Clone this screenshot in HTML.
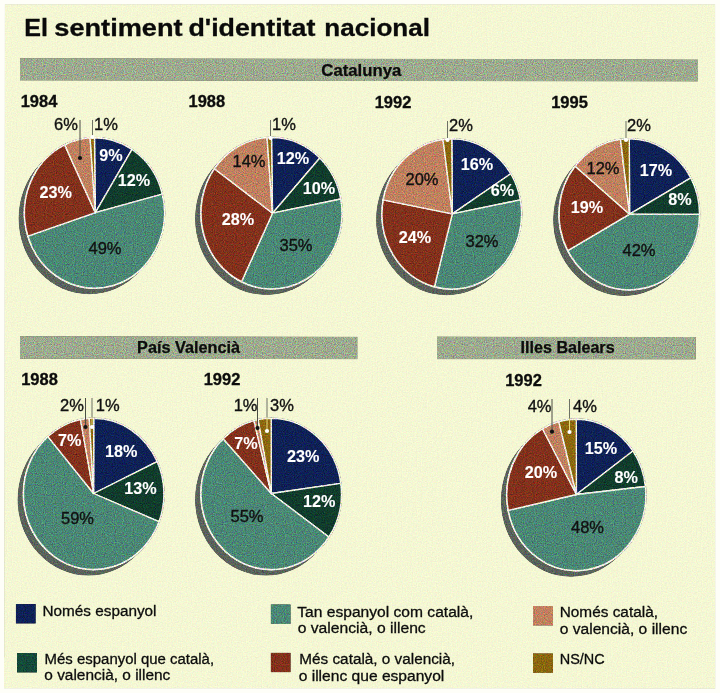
<!DOCTYPE html>
<html lang="ca"><head><meta charset="utf-8"><title>El sentiment d'identitat nacional</title>
<style>html,body{margin:0;padding:0;background:#fff}svg{display:block}</style></head>
<body>
<svg width="720" height="693" viewBox="0 0 720 693" font-family="Liberation Sans, sans-serif">
<defs>
<filter id="gs" x="0" y="0" width="100%" height="100%" color-interpolation-filters="sRGB">
<feTurbulence type="fractalNoise" baseFrequency="0.9" numOctaves="2" seed="7" result="n"/>
<feColorMatrix in="n" type="matrix" values="1 0 0 0 0  0 1 0 0 0  0 0 1 0 0  0 0 0 0 1" result="n1"/>
<feComposite in="SourceGraphic" in2="n1" operator="arithmetic" k1="0.7" k2="0.65" k3="0.22" k4="-0.11" result="c"/>
<feComposite in="c" in2="SourceGraphic" operator="in"/>
</filter>
<filter id="gl" x="0" y="0" width="100%" height="100%" color-interpolation-filters="sRGB">
<feTurbulence type="fractalNoise" baseFrequency="0.8" numOctaves="2" seed="3" result="n"/>
<feColorMatrix in="n" type="matrix" values="1 0 0 0 0  0 1 0 0 0  0 0 1 0 0  0 0 0 0 1" result="n1"/>
<feComposite in="SourceGraphic" in2="n1" operator="arithmetic" k1="0" k2="1" k3="0.16" k4="-0.08" result="c"/>
<feComposite in="c" in2="SourceGraphic" operator="in"/>
</filter>
</defs>
<rect width="720" height="693" fill="#FEFEF8"/>
<polygon points="4.8,4.3 715.2,4.3 715.4,688.7 4,688.4" fill="#F4F7D3" filter="url(#gl)"/>
<g filter="url(#gs)">
<polygon points="20,58.2 698,59.4 698,81.6 20,80.4" fill="#9DAA8F"/>
<polygon points="20,336.2 357.5,336.7 357.5,359.2 20,358.7" fill="#9DAA8F"/>
<polygon points="437,336.6 695.7,337 695.7,359.6 437,359.2" fill="#9DAA8F"/>
<ellipse cx="89.2" cy="218.4" rx="70.6" ry="75.8" fill="#5A625B"/>
<ellipse cx="94.5" cy="212.9" rx="70.9" ry="76.10000000000001" fill="#FBF8EA"/>
<path d="M95.3 212.7L94.50 137.70A70 75.2 0 0 1 132.01 149.41Z" fill="#0F2156" stroke="#FBF8EA" stroke-width="1.35" stroke-linejoin="round"/>
<path d="M95.3 212.7L132.01 149.41A70 75.2 0 0 1 162.30 194.20Z" fill="#113C2C" stroke="#FBF8EA" stroke-width="1.35" stroke-linejoin="round"/>
<path d="M95.3 212.7L162.30 194.20A70 75.2 0 0 1 27.93 236.14Z" fill="#4B8775" stroke="#FBF8EA" stroke-width="1.35" stroke-linejoin="round"/>
<path d="M95.3 212.7L27.93 236.14A70 75.2 0 0 1 64.70 144.86Z" fill="#82311C" stroke="#FBF8EA" stroke-width="1.35" stroke-linejoin="round"/>
<path d="M95.3 212.7L64.70 144.86A70 75.2 0 0 1 90.10 137.85Z" fill="#BF805F" stroke="#FBF8EA" stroke-width="1.35" stroke-linejoin="round"/>
<path d="M95.3 212.7L90.10 137.85A70 75.2 0 0 1 94.50 137.70Z" fill="#8B670F" stroke="#FBF8EA" stroke-width="1.35" stroke-linejoin="round"/>
<ellipse cx="266.2" cy="218.7" rx="71.1" ry="76.3" fill="#5A625B"/>
<ellipse cx="271.5" cy="213.2" rx="71.4" ry="76.60000000000001" fill="#FBF8EA"/>
<path d="M272.5 213.2L271.50 137.50A70.5 75.7 0 0 1 319.76 158.02Z" fill="#0F2156" stroke="#FBF8EA" stroke-width="1.35" stroke-linejoin="round"/>
<path d="M272.5 213.2L319.76 158.02A70.5 75.7 0 0 1 340.75 199.02Z" fill="#113C2C" stroke="#FBF8EA" stroke-width="1.35" stroke-linejoin="round"/>
<path d="M272.5 213.2L340.75 199.02A70.5 75.7 0 0 1 241.48 281.70Z" fill="#4B8775" stroke="#FBF8EA" stroke-width="1.35" stroke-linejoin="round"/>
<path d="M272.5 213.2L241.48 281.70A70.5 75.7 0 0 1 214.46 168.70Z" fill="#82311C" stroke="#FBF8EA" stroke-width="1.35" stroke-linejoin="round"/>
<path d="M272.5 213.2L214.46 168.70A70.5 75.7 0 0 1 267.07 137.65Z" fill="#BF805F" stroke="#FBF8EA" stroke-width="1.35" stroke-linejoin="round"/>
<path d="M272.5 213.2L267.07 137.65A70.5 75.7 0 0 1 271.50 137.50Z" fill="#8B670F" stroke="#FBF8EA" stroke-width="1.35" stroke-linejoin="round"/>
<ellipse cx="446.5" cy="219.5" rx="70.39999999999999" ry="75.69999999999999" fill="#5A625B"/>
<ellipse cx="451.8" cy="214.0" rx="70.7" ry="76.0" fill="#FBF8EA"/>
<path d="M452.3 213.9L451.80 138.90A69.8 75.1 0 0 1 510.73 173.76Z" fill="#0F2156" stroke="#FBF8EA" stroke-width="1.35" stroke-linejoin="round"/>
<path d="M452.3 213.9L510.73 173.76A69.8 75.1 0 0 1 520.36 199.93Z" fill="#113C2C" stroke="#FBF8EA" stroke-width="1.35" stroke-linejoin="round"/>
<path d="M452.3 213.9L520.36 199.93A69.8 75.1 0 0 1 434.44 286.74Z" fill="#4B8775" stroke="#FBF8EA" stroke-width="1.35" stroke-linejoin="round"/>
<path d="M452.3 213.9L434.44 286.74A69.8 75.1 0 0 1 383.24 199.93Z" fill="#82311C" stroke="#FBF8EA" stroke-width="1.35" stroke-linejoin="round"/>
<path d="M452.3 213.9L383.24 199.93A69.8 75.1 0 0 1 443.05 139.49Z" fill="#BF805F" stroke="#FBF8EA" stroke-width="1.35" stroke-linejoin="round"/>
<path d="M452.3 213.9L443.05 139.49A69.8 75.1 0 0 1 451.80 138.90Z" fill="#8B670F" stroke="#FBF8EA" stroke-width="1.35" stroke-linejoin="round"/>
<ellipse cx="624.0" cy="219.8" rx="70.8" ry="76.1" fill="#5A625B"/>
<ellipse cx="629.3" cy="214.3" rx="71.10000000000001" ry="76.4" fill="#FBF8EA"/>
<path d="M629.6 214.2L629.30 138.80A70.2 75.5 0 0 1 690.82 177.93Z" fill="#0F2156" stroke="#FBF8EA" stroke-width="1.35" stroke-linejoin="round"/>
<path d="M629.6 214.2L690.82 177.93A70.2 75.5 0 0 1 699.50 214.30Z" fill="#113C2C" stroke="#FBF8EA" stroke-width="1.35" stroke-linejoin="round"/>
<path d="M629.6 214.2L699.50 214.30A70.2 75.5 0 0 1 567.78 250.67Z" fill="#4B8775" stroke="#FBF8EA" stroke-width="1.35" stroke-linejoin="round"/>
<path d="M629.6 214.2L567.78 250.67A70.2 75.5 0 0 1 575.21 166.17Z" fill="#82311C" stroke="#FBF8EA" stroke-width="1.35" stroke-linejoin="round"/>
<path d="M629.6 214.2L575.21 166.17A70.2 75.5 0 0 1 620.50 139.40Z" fill="#BF805F" stroke="#FBF8EA" stroke-width="1.35" stroke-linejoin="round"/>
<path d="M629.6 214.2L620.50 139.40A70.2 75.5 0 0 1 629.30 138.80Z" fill="#8B670F" stroke="#FBF8EA" stroke-width="1.35" stroke-linejoin="round"/>
<ellipse cx="88.4" cy="499.4" rx="70.8" ry="76.19999999999999" fill="#5A625B"/>
<ellipse cx="93.7" cy="493.9" rx="71.10000000000001" ry="76.5" fill="#FBF8EA"/>
<path d="M93.6 493.5L93.70 418.30A70.2 75.6 0 0 1 157.22 461.71Z" fill="#0F2156" stroke="#FBF8EA" stroke-width="1.35" stroke-linejoin="round"/>
<path d="M93.6 493.5L157.22 461.71A70.2 75.6 0 0 1 158.97 521.73Z" fill="#113C2C" stroke="#FBF8EA" stroke-width="1.35" stroke-linejoin="round"/>
<path d="M93.6 493.5L158.97 521.73A70.2 75.6 0 1 1 47.94 436.57Z" fill="#4B8775" stroke="#FBF8EA" stroke-width="1.35" stroke-linejoin="round"/>
<path d="M93.6 493.5L47.94 436.57A70.2 75.6 0 0 1 80.55 419.64Z" fill="#82311C" stroke="#FBF8EA" stroke-width="1.35" stroke-linejoin="round"/>
<path d="M93.6 493.5L80.55 419.64A70.2 75.6 0 0 1 89.29 418.45Z" fill="#BF805F" stroke="#FBF8EA" stroke-width="1.35" stroke-linejoin="round"/>
<path d="M93.6 493.5L89.29 418.45A70.2 75.6 0 0 1 93.70 418.30Z" fill="#8B670F" stroke="#FBF8EA" stroke-width="1.35" stroke-linejoin="round"/>
<ellipse cx="265.9" cy="499.4" rx="70.8" ry="76.19999999999999" fill="#5A625B"/>
<ellipse cx="271.2" cy="493.9" rx="71.10000000000001" ry="76.5" fill="#FBF8EA"/>
<path d="M271.3 493.5L271.20 418.30A70.2 75.6 0 0 1 340.71 483.35Z" fill="#0F2156" stroke="#FBF8EA" stroke-width="1.35" stroke-linejoin="round"/>
<path d="M271.3 493.5L340.71 483.35A70.2 75.6 0 0 1 328.88 536.99Z" fill="#113C2C" stroke="#FBF8EA" stroke-width="1.35" stroke-linejoin="round"/>
<path d="M271.3 493.5L328.88 536.99A70.2 75.6 0 1 1 223.21 438.73Z" fill="#4B8775" stroke="#FBF8EA" stroke-width="1.35" stroke-linejoin="round"/>
<path d="M271.3 493.5L223.21 438.73A70.2 75.6 0 0 1 253.91 420.63Z" fill="#82311C" stroke="#FBF8EA" stroke-width="1.35" stroke-linejoin="round"/>
<path d="M271.3 493.5L253.91 420.63A70.2 75.6 0 0 1 258.17 419.61Z" fill="#BF805F" stroke="#FBF8EA" stroke-width="1.35" stroke-linejoin="round"/>
<path d="M271.3 493.5L258.17 419.61A70.2 75.6 0 0 1 271.20 418.30Z" fill="#8B670F" stroke="#FBF8EA" stroke-width="1.35" stroke-linejoin="round"/>
<ellipse cx="571.0" cy="500.4" rx="70.1" ry="76.3" fill="#5A625B"/>
<ellipse cx="576.3" cy="494.9" rx="70.4" ry="76.60000000000001" fill="#FBF8EA"/>
<path d="M576.4 494.5L576.30 419.20A69.5 75.7 0 0 1 632.91 450.99Z" fill="#0F2156" stroke="#FBF8EA" stroke-width="1.35" stroke-linejoin="round"/>
<path d="M576.4 494.5L632.91 450.99A69.5 75.7 0 0 1 645.37 486.51Z" fill="#113C2C" stroke="#FBF8EA" stroke-width="1.35" stroke-linejoin="round"/>
<path d="M576.4 494.5L645.37 486.51A69.5 75.7 0 0 1 508.27 510.40Z" fill="#4B8775" stroke="#FBF8EA" stroke-width="1.35" stroke-linejoin="round"/>
<path d="M576.4 494.5L508.27 510.40A69.5 75.7 0 0 1 542.51 428.75Z" fill="#82311C" stroke="#FBF8EA" stroke-width="1.35" stroke-linejoin="round"/>
<path d="M576.4 494.5L542.51 428.75A69.5 75.7 0 0 1 558.85 421.63Z" fill="#BF805F" stroke="#FBF8EA" stroke-width="1.35" stroke-linejoin="round"/>
<path d="M576.4 494.5L558.85 421.63A69.5 75.7 0 0 1 576.30 419.20Z" fill="#8B670F" stroke="#FBF8EA" stroke-width="1.35" stroke-linejoin="round"/>
<rect x="15.8" y="604" width="20" height="19.6" fill="#0F2156"/>
<rect x="17" y="653" width="20" height="19.6" fill="#154A3A"/>
<rect x="270.7" y="604.3" width="20" height="19.6" fill="#4B8775"/>
<rect x="270.7" y="652.7" width="20" height="19.6" fill="#82311C"/>
<rect x="533" y="606" width="20" height="19.6" fill="#BF805F"/>
<rect x="533" y="653.3" width="20" height="19.6" fill="#8B670F"/>
</g>
<text font-size="23.6" font-weight="bold" stroke="#0a0a0a" stroke-width="0.3" fill="#0a0a0a"><tspan x="24.3" y="36.3" textLength="23.7" lengthAdjust="spacingAndGlyphs">El</tspan> <tspan x="54.3" y="36.3" textLength="128.3" lengthAdjust="spacingAndGlyphs">sentiment</tspan> <tspan x="188.4" y="36.3" textLength="127" lengthAdjust="spacingAndGlyphs">d'identitat</tspan> <tspan x="324.3" y="36.3" textLength="105.6" lengthAdjust="spacingAndGlyphs">nacional</tspan></text>
<text x="321.3" y="75.8" font-size="16" font-weight="bold" textLength="80" lengthAdjust="spacingAndGlyphs" stroke="#0c0c0c" stroke-width="0.25" fill="#0c0c0c">Catalunya</text>
<text x="137.1" y="352.6" font-size="16" font-weight="bold" textLength="103" lengthAdjust="spacingAndGlyphs" stroke="#0c0c0c" stroke-width="0.25" fill="#0c0c0c">País Valencià</text>
<text x="520.6" y="353.3" font-size="16" font-weight="bold" textLength="94" lengthAdjust="spacingAndGlyphs" stroke="#0c0c0c" stroke-width="0.25" fill="#0c0c0c">Illes Balears</text>
<text x="20.7" y="107.0" font-size="15.6" font-weight="bold" textLength="36.7" lengthAdjust="spacingAndGlyphs" stroke="#0c0c0c" stroke-width="0.3" fill="#0c0c0c">1984</text>
<text x="188.5" y="107.0" font-size="15.6" font-weight="bold" textLength="36.7" lengthAdjust="spacingAndGlyphs" stroke="#0c0c0c" stroke-width="0.3" fill="#0c0c0c">1988</text>
<text x="374.7" y="107.8" font-size="15.6" font-weight="bold" textLength="36.7" lengthAdjust="spacingAndGlyphs" stroke="#0c0c0c" stroke-width="0.3" fill="#0c0c0c">1992</text>
<text x="551.2" y="108.0" font-size="15.6" font-weight="bold" textLength="36.7" lengthAdjust="spacingAndGlyphs" stroke="#0c0c0c" stroke-width="0.3" fill="#0c0c0c">1995</text>
<text x="21.2" y="384.5" font-size="15.6" font-weight="bold" textLength="36.7" lengthAdjust="spacingAndGlyphs" stroke="#0c0c0c" stroke-width="0.3" fill="#0c0c0c">1988</text>
<text x="203.7" y="384.9" font-size="15.6" font-weight="bold" textLength="36.7" lengthAdjust="spacingAndGlyphs" stroke="#0c0c0c" stroke-width="0.3" fill="#0c0c0c">1992</text>
<text x="505.2" y="385.9" font-size="15.6" font-weight="bold" textLength="36.7" lengthAdjust="spacingAndGlyphs" stroke="#0c0c0c" stroke-width="0.3" fill="#0c0c0c">1992</text>
<text x="111" y="161" font-size="16.2" font-weight="bold" text-anchor="middle" stroke="#fff" stroke-width="0.1" fill="#fff">9%</text>
<text x="134" y="185.7" font-size="16.2" font-weight="bold" text-anchor="middle" stroke="#fff" stroke-width="0.1" fill="#fff">12%</text>
<text x="105" y="253.5" font-size="16.5" text-anchor="middle" stroke="#111" stroke-width="0.35" fill="#111">49%</text>
<text x="55.6" y="197.6" font-size="16.2" font-weight="bold" text-anchor="middle" stroke="#fff" stroke-width="0.1" fill="#fff">23%</text>
<text x="66" y="130" font-size="16.5" text-anchor="middle" stroke="#111" stroke-width="0.35" fill="#111">6%</text>
<text x="106" y="130" font-size="16.5" text-anchor="middle" stroke="#111" stroke-width="0.35" fill="#111">1%</text>
<line x1="80" y1="120" x2="80" y2="158" stroke="#4a4d44" stroke-width="1"/>
<circle cx="80" cy="158" r="2.1" fill="#111"/>
<line x1="92.5" y1="120" x2="92.5" y2="136.8" stroke="#6d7164" stroke-width="1"/>
<circle cx="92.5" cy="137" r="2.1" fill="#fff"/>
<text x="293" y="164" font-size="16.2" font-weight="bold" text-anchor="middle" stroke="#fff" stroke-width="0.1" fill="#fff">12%</text>
<text x="319" y="194" font-size="16.2" font-weight="bold" text-anchor="middle" stroke="#fff" stroke-width="0.1" fill="#fff">10%</text>
<text x="296" y="251" font-size="16.5" text-anchor="middle" stroke="#111" stroke-width="0.35" fill="#111">35%</text>
<text x="238" y="225" font-size="16.2" font-weight="bold" text-anchor="middle" stroke="#fff" stroke-width="0.1" fill="#fff">28%</text>
<text x="249" y="166.5" font-size="16.5" text-anchor="middle" stroke="#111" stroke-width="0.35" fill="#111">14%</text>
<text x="284" y="130" font-size="16.5" text-anchor="middle" stroke="#111" stroke-width="0.35" fill="#111">1%</text>
<line x1="270.5" y1="120" x2="270.5" y2="136.6" stroke="#6d7164" stroke-width="1"/>
<line x1="270.5" y1="136.6" x2="270.5" y2="138" stroke="#e6dc7a" stroke-width="1"/>
<circle cx="270.5" cy="138" r="2.1" fill="#fff"/>
<text x="477" y="170" font-size="16.2" font-weight="bold" text-anchor="middle" stroke="#fff" stroke-width="0.1" fill="#fff">16%</text>
<text x="502.5" y="196" font-size="16.2" font-weight="bold" text-anchor="middle" stroke="#fff" stroke-width="0.1" fill="#fff">6%</text>
<text x="482" y="247" font-size="16.5" text-anchor="middle" stroke="#111" stroke-width="0.35" fill="#111">32%</text>
<text x="415" y="242.7" font-size="16.2" font-weight="bold" text-anchor="middle" stroke="#fff" stroke-width="0.1" fill="#fff">24%</text>
<text x="422" y="185" font-size="16.5" text-anchor="middle" stroke="#111" stroke-width="0.35" fill="#111">20%</text>
<text x="461" y="130.6" font-size="16.5" text-anchor="middle" stroke="#111" stroke-width="0.35" fill="#111">2%</text>
<line x1="447.5" y1="121" x2="447.5" y2="138.1" stroke="#6d7164" stroke-width="1"/>
<line x1="447.5" y1="138.1" x2="447.5" y2="140" stroke="#e6dc7a" stroke-width="1"/>
<circle cx="447.5" cy="140" r="2.1" fill="#fff"/>
<text x="656" y="176" font-size="16.2" font-weight="bold" text-anchor="middle" stroke="#fff" stroke-width="0.1" fill="#fff">17%</text>
<text x="680" y="205" font-size="16.2" font-weight="bold" text-anchor="middle" stroke="#fff" stroke-width="0.1" fill="#fff">8%</text>
<text x="639" y="256" font-size="16.5" text-anchor="middle" stroke="#111" stroke-width="0.35" fill="#111">42%</text>
<text x="587" y="212.5" font-size="16.2" font-weight="bold" text-anchor="middle" stroke="#fff" stroke-width="0.1" fill="#fff">19%</text>
<text x="603" y="174" font-size="16.5" text-anchor="middle" stroke="#111" stroke-width="0.35" fill="#111">12%</text>
<text x="639" y="131" font-size="16.5" text-anchor="middle" stroke="#111" stroke-width="0.35" fill="#111">2%</text>
<line x1="626" y1="121" x2="626" y2="138.0" stroke="#6d7164" stroke-width="1"/>
<line x1="626" y1="138.0" x2="626" y2="140" stroke="#e6dc7a" stroke-width="1"/>
<circle cx="626" cy="140" r="2.1" fill="#fff"/>
<text x="121.3" y="456.7" font-size="16.2" font-weight="bold" text-anchor="middle" stroke="#fff" stroke-width="0.1" fill="#fff">18%</text>
<text x="140.5" y="493.7" font-size="16.2" font-weight="bold" text-anchor="middle" stroke="#fff" stroke-width="0.1" fill="#fff">13%</text>
<text x="77.5" y="523.9" font-size="16.5" text-anchor="middle" stroke="#111" stroke-width="0.35" fill="#111">59%</text>
<text x="69.6" y="446.2" font-size="16.2" font-weight="bold" text-anchor="middle" stroke="#fff" stroke-width="0.1" fill="#fff">7%</text>
<text x="72" y="410.5" font-size="16.5" text-anchor="middle" stroke="#111" stroke-width="0.35" fill="#111">2%</text>
<text x="107.8" y="410.5" font-size="16.5" text-anchor="middle" stroke="#111" stroke-width="0.35" fill="#111">1%</text>
<line x1="85.5" y1="398" x2="85.5" y2="427" stroke="#4a4d44" stroke-width="1"/>
<circle cx="85.5" cy="427" r="2.1" fill="#111"/>
<line x1="92" y1="398" x2="92" y2="417.4" stroke="#6d7164" stroke-width="1"/>
<line x1="92" y1="417.4" x2="92" y2="427" stroke="#e6dc7a" stroke-width="1"/>
<circle cx="92" cy="427" r="2.1" fill="#fff"/>
<text x="303.3" y="462.4" font-size="16.2" font-weight="bold" text-anchor="middle" stroke="#fff" stroke-width="0.1" fill="#fff">23%</text>
<text x="319.3" y="506.7" font-size="16.2" font-weight="bold" text-anchor="middle" stroke="#fff" stroke-width="0.1" fill="#fff">12%</text>
<text x="247" y="522.2" font-size="16.5" text-anchor="middle" stroke="#111" stroke-width="0.35" fill="#111">55%</text>
<text x="246" y="449.4" font-size="16.2" font-weight="bold" text-anchor="middle" stroke="#fff" stroke-width="0.1" fill="#fff">7%</text>
<text x="245.6" y="410.5" font-size="16.5" text-anchor="middle" stroke="#111" stroke-width="0.35" fill="#111">1%</text>
<text x="282" y="410.5" font-size="16.5" text-anchor="middle" stroke="#111" stroke-width="0.35" fill="#111">3%</text>
<line x1="257.5" y1="398" x2="257.5" y2="428" stroke="#4a4d44" stroke-width="1"/>
<circle cx="257.5" cy="428" r="2.1" fill="#111"/>
<line x1="267" y1="398" x2="267" y2="417.5" stroke="#6d7164" stroke-width="1"/>
<line x1="267" y1="417.5" x2="267" y2="431" stroke="#e6dc7a" stroke-width="1"/>
<circle cx="267" cy="431" r="2.1" fill="#fff"/>
<text x="601" y="454" font-size="16.2" font-weight="bold" text-anchor="middle" stroke="#fff" stroke-width="0.1" fill="#fff">15%</text>
<text x="626.3" y="482.5" font-size="16.2" font-weight="bold" text-anchor="middle" stroke="#fff" stroke-width="0.1" fill="#fff">8%</text>
<text x="587.5" y="532.7" font-size="16.5" text-anchor="middle" stroke="#111" stroke-width="0.35" fill="#111">48%</text>
<text x="541" y="477.7" font-size="16.2" font-weight="bold" text-anchor="middle" stroke="#fff" stroke-width="0.1" fill="#fff">20%</text>
<text x="539.6" y="412" font-size="16.5" text-anchor="middle" stroke="#111" stroke-width="0.35" fill="#111">4%</text>
<text x="585" y="412" font-size="16.5" text-anchor="middle" stroke="#111" stroke-width="0.35" fill="#111">4%</text>
<line x1="552" y1="399" x2="552" y2="431.7" stroke="#4a4d44" stroke-width="1"/>
<circle cx="552" cy="431.7" r="2.1" fill="#111"/>
<line x1="569.5" y1="399" x2="569.5" y2="418.7" stroke="#6d7164" stroke-width="1"/>
<line x1="569.5" y1="418.7" x2="569.5" y2="432" stroke="#e6dc7a" stroke-width="1"/>
<circle cx="569.5" cy="432" r="2.1" fill="#fff"/>
<text x="42.5" y="616" font-size="15.3" textLength="114" lengthAdjust="spacingAndGlyphs" stroke="#0c0c0c" stroke-width="0.3" fill="#0c0c0c">Només espanyol</text>
<text font-size="15.3" stroke="#0c0c0c" stroke-width="0.3" fill="#0c0c0c"><tspan x="44.6" y="663.8" textLength="169.5" lengthAdjust="spacingAndGlyphs">Més espanyol que català,</tspan> <tspan x="44.3" y="680.4" textLength="126" lengthAdjust="spacingAndGlyphs">o valencià, o illenc</tspan></text>
<text font-size="15.3" stroke="#0c0c0c" stroke-width="0.3" fill="#0c0c0c"><tspan x="297.3" y="616.6" textLength="176" lengthAdjust="spacingAndGlyphs">Tan espanyol com català,</tspan> <tspan x="297.7" y="633.3" textLength="128" lengthAdjust="spacingAndGlyphs">o valencià, o illenc</tspan></text>
<text font-size="15.3" stroke="#0c0c0c" stroke-width="0.3" fill="#0c0c0c"><tspan x="299.3" y="664" textLength="155.7" lengthAdjust="spacingAndGlyphs">Més català, o valencià,</tspan> <tspan x="298.7" y="680.7" textLength="145.6" lengthAdjust="spacingAndGlyphs">o illenc que espanyol</tspan></text>
<text font-size="15.3" stroke="#0c0c0c" stroke-width="0.3" fill="#0c0c0c"><tspan x="559.7" y="617" textLength="98.3" lengthAdjust="spacingAndGlyphs">Només català,</tspan> <tspan x="559.7" y="633.6" textLength="127.5" lengthAdjust="spacingAndGlyphs">o valencià, o illenc</tspan></text>
<text x="559.7" y="664.4" font-size="15.3" textLength="45" lengthAdjust="spacingAndGlyphs" stroke="#0c0c0c" stroke-width="0.3" fill="#0c0c0c">NS/NC</text>
</svg>
</body></html>
